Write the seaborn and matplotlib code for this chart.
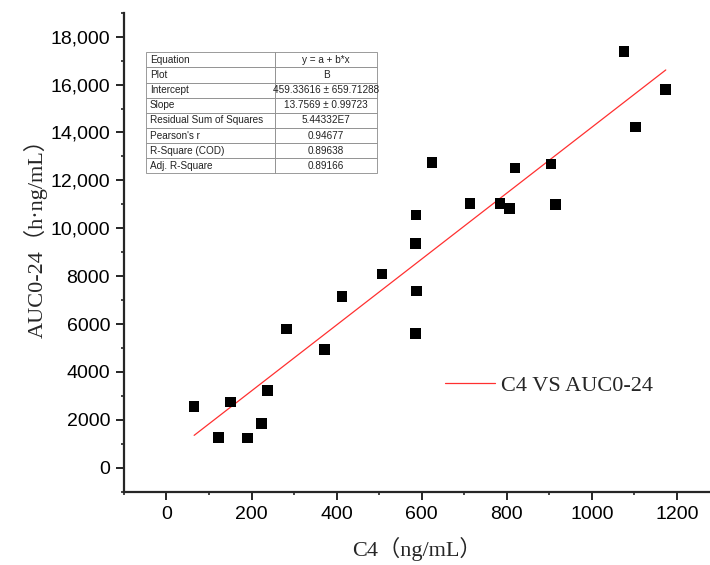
import matplotlib
matplotlib.use('Agg')
import matplotlib.pyplot as plt
from matplotlib.ticker import MultipleLocator, AutoMinorLocator, FuncFormatter
from matplotlib.lines import Line2D
import numpy as np
import seaborn as sns

# data
c4 = np.array([65, 122, 151, 190, 223, 238, 282, 371, 413, 507, 585, 585,
               587, 588, 624, 714, 784, 807, 819, 904, 915, 1076, 1103, 1174])
auc = np.array([2558, 1275, 2750, 1250, 1858, 3233, 5791, 4929, 7151, 8096, 5608, 9375,
                10554, 7374, 12734, 11025, 11025, 10833, 12525, 12692, 10999, 17387, 14221, 15804])

# linear fit results shown in the table
intercept = 459.33616
slope = 13.7569
table_keys = ['Equation', 'Plot', 'Intercept', 'Slope', 'Residual Sum of Squares',
              "Pearson's r", 'R-Square (COD)', 'Adj. R-Square']
table_values = ['y = a + b*x', 'B', '459.33616 ± 659.71288', '13.7569 ± 0.99723',
                '5.44332E7', '0.94677', '0.89638', '0.89166']

sns.set_style('ticks')
plt.rcParams['font.family'] = ['Liberation Sans', 'DejaVu Sans']
serif = ['Liberation Serif', 'Noto Sans CJK SC']

fig = plt.figure(figsize=(7.1, 5.65), dpi=100)
ax = fig.add_axes([0.1746, 0.1297, 0.8254, 0.8478])

sns.scatterplot(x=c4, y=auc, marker='s', s=58, color='black', edgecolor='none', ax=ax, zorder=3)

fit_x = np.array([c4.min(), c4.max()])
fit_y = intercept + slope * fit_x
sns.lineplot(x=fit_x, y=fit_y, color='#ff3030', linewidth=0.9, ax=ax, zorder=2)

ax.set_xlim(-100, 1278)
ax.set_ylim(-1000, 19000)
ax.xaxis.set_major_locator(MultipleLocator(200))
ax.xaxis.set_minor_locator(AutoMinorLocator(2))
ax.yaxis.set_major_locator(MultipleLocator(2000))
ax.yaxis.set_minor_locator(AutoMinorLocator(2))
ax.yaxis.set_major_formatter(FuncFormatter(lambda v, p: f'{v:,.0f}' if v >= 10000 else f'{v:.0f}'))

sns.despine(ax=ax)
for s in ['left', 'bottom']:
    ax.spines[s].set_linewidth(1.6)
ax.tick_params(which='major', length=6, width=1.2, labelsize=14, pad=4, colors='black')
ax.tick_params(which='minor', length=2.5, width=1.2)

ax.set_xlabel('C4（ng/mL）', fontsize=16, family=serif, labelpad=10)
ax.set_ylabel('AUC0-24（h·ng/mL）', fontsize=16, family=serif)
ax.yaxis.set_label_coords(-0.13, 0.54)

handle = Line2D([], [], color='#ff3030', linewidth=0.9)
ax.legend([handle], ['C4 VS AUC0-24'], loc='center left', bbox_to_anchor=(0.548, 0.2213),
          frameon=False, borderaxespad=0, borderpad=0, handlelength=2.25,
          handletextpad=0.25, prop={'family': serif, 'size': 16})

tbl = ax.table(cellText=[[k, v] for k, v in zip(table_keys, table_values)],
               colWidths=[0.561, 0.439], bbox=[0.0375, 0.6647, 0.394, 0.2526])
tbl.auto_set_font_size(False)
tbl.set_fontsize(7.2)
for (r, c), cell in tbl.get_celld().items():
    cell.set_edgecolor('#8a8a8a')
    cell.set_linewidth(0.6)
    cell.PAD = 0.03
    cell.get_text().set_color('#222222')
    cell.get_text().set_ha('left' if c == 0 else 'center')
    cell._loc = 'left' if c == 0 else 'center'

plt.savefig('out.png', dpi=100)
